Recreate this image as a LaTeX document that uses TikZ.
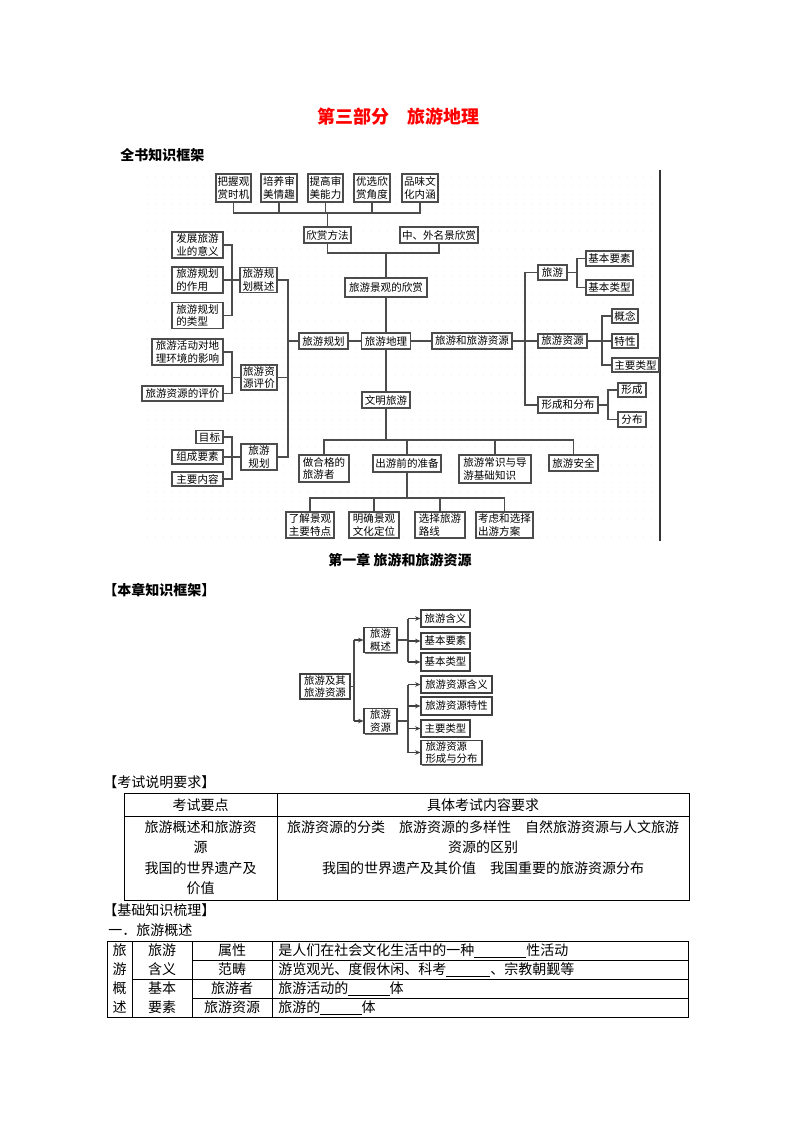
\documentclass[tikz,border=0pt]{standalone}
\usepackage{fontspec}
\setmainfont{Noto Sans CJK SC}
\usetikzlibrary{arrows.meta,shadows}
\begin{document}
\begin{tikzpicture}[x=0.75pt,y=-0.75pt,
  wh/.style 2 args={minimum width=#1*0.75pt,minimum height=#2*0.75pt},
  tb/.style={draw=black!70,line width=0.8pt,fill=white,inner sep=0.8pt,font=\fontsize{7.9}{9.3}\selectfont,align=left},
  ln/.style={draw=black!70,line width=0.8pt},
  sb/.style={draw=black!75,line width=0.8pt,fill=white,inner sep=0.8pt,font=\fontsize{7.8}{9.3}\selectfont,align=left,drop shadow={shadow xshift=1.1pt,shadow yshift=-1.1pt,fill=black!55,opacity=1}},
  ar/.style={draw=black!75,line width=0.8pt,-{Stealth[length=4pt,width=3.4pt]}},
  body/.style={font=\fontsize{10.5}{12}\selectfont,inner sep=0pt},
  head/.style={font=\fontsize{10.5}{12}\selectfont\bfseries,inner sep=0pt},
  tl/.style={draw=black,line width=0.75pt}]
\fill[white] (0,0) rectangle (794,1123);
\useasboundingbox (0,0) rectangle (794,1123);

% dotted background
\foreach \i in {0,...,63} {\foreach \j in {0,...,40} {\fill[gray!45] ({147+\i*8},{177+\j*9}) circle (0.35pt);}}
\coordinate (fT) at (660,170);
\coordinate (fB) at (660,541);
\draw[line width=0.8pt,black!80] (fT) -- (fB);

% title
\node[font=\fontsize{13.5}{15}\selectfont\bfseries,text=red,inner sep=0pt] (title) at (398,117) {第三部分　旅游地理};
\node[head,anchor=west] (qs) at (120,155) {全书知识框架};

% top row
\node[tb,wh={35}{28}] (a1) at (233.5,188) {把握观\\赏时机};
\node[tb,wh={36}{28}] (a2) at (279,188) {培养审\\美情趣};
\node[tb,wh={35}{28}] (a3) at (325.5,188) {提高审\\美能力};
\node[tb,wh={36}{28}] (a4) at (372,188) {优选欣\\赏角度};
\node[tb,wh={36}{28}] (a5) at (420,188) {品味文\\化内涵};
\coordinate (busA) at (0,213);
\draw[ln] (a1.south) -- (a1.south|-busA) -- (a5.south|-busA) -- (a5.south);
\foreach \n in {a2,a3,a4} \draw[ln] (\n.south) -- (\n.south|-busA);
\node[tb,wh={47}{16}] (xs) at (327.5,235) {欣赏方法};
\draw[ln] (xs.north) -- (xs.north|-busA);
\node[tb,wh={78}{16}] (zw) at (439,235) {中、外名景欣赏};
\node[tb,wh={82}{19}] (jg) at (386,287.5) {旅游景观的欣赏};
\coordinate (busB) at (0,253);
\draw[ln] (xs.south) -- (xs.south|-busB) -- (zw.south|-busB) -- (zw.south);
\draw[ln] (jg.north) -- (jg.north|-busB);
\node[tb,wh={49}{16}] (dl) at (386,341) {旅游地理};
\draw[ln] (jg.south) -- (dl.north);
\node[tb,wh={49}{16}] (gh) at (323.5,341) {旅游规划};
\node[tb,wh={80}{16}] (zy) at (472,341) {旅游和旅游资源};
\draw[ln] (gh.east) -- (dl.west);
\draw[ln] (dl.east) -- (zy.west);
\node[tb,wh={48}{16}] (wm) at (386,400) {文明旅游};
\draw[ln] (dl.south) -- (wm.north);

% left side
\coordinate (brL) at (232,0);
\coordinate (trL) at (288,0);
\node[tb,wh={51}{26}] (l1) at (197.5,245) {发展旅游\\业的意义};
\node[tb,wh={51}{26}] (l2) at (197.5,280) {旅游规划\\的作用};
\node[tb,wh={51}{26}] (l3) at (197.5,315.5) {旅游规划\\的类型};
\node[tb,wh={37}{25}] (l4) at (258.5,280) {旅游规\\划概述};
\draw[ln] (l1.east) -- (l1.east-|brL) -- (l3.east-|brL) -- (l3.east);
\draw[ln] (l2.east) -- (l4.west);
\node[tb,wh={71}{26}] (l5) at (187.5,352) {旅游活动对地\\理环境的影响};
\node[tb,wh={81}{15}] (l6) at (182.5,393.5) {旅游资源的评价};
\node[tb,wh={36}{25}] (l7) at (259,377.5) {旅游资\\源评价};
\draw[ln] (l5.east) -- (l5.east-|brL) -- (l6.east-|brL) -- (l6.east);
\draw[ln] (l7.west) -- (l7.west-|brL);
\node[tb,wh={27}{13}] (l8a) at (209.5,437) {目标};
\node[tb,wh={51}{14}] (l8b) at (197.5,457) {组成要素};
\node[tb,wh={51}{14}] (l8c) at (197.5,479) {主要内容};
\node[tb,wh={36}{26}] (l9) at (259,457) {旅游\\规划};
\draw[ln] (l8a.east) -- (l8a.east-|brL) -- (l8c.east-|brL) -- (l8c.east);
\draw[ln] (l8b.east) -- (l9.west);
\draw[ln] (l4.east) -- (l4.east-|trL) -- (l9.east-|trL) -- (l9.east);
\draw[ln] (l7.east) -- (l7.east-|trL);
\draw[ln] (gh.west) -- (gh.west-|trL);

% bottom tree
\coordinate (busC) at (0,440);
\node[tb,wh={50}{27}] (b1) at (324,468.5) {做合格的\\旅游者};
\node[tb,wh={68}{17}] (b2) at (407,463.5) {出游前的准备};
\node[tb,wh={72}{28}] (b3) at (495,469) {旅游常识与导\\游基础知识};
\node[tb,wh={49}{16}] (b4) at (573.5,463) {旅游安全};
\draw[ln] (wm.south) -- (wm.south|-busC);
\draw[ln] (b1.north) -- (b1.north|-busC) -- (b4.north|-busC) -- (b4.north);
\draw[ln] (b2.north) -- (b2.north|-busC);
\draw[ln] (b3.north) -- (b3.north|-busC);
\coordinate (busD) at (0,498);
\node[tb,wh={48}{26}] (c1) at (310,525) {了解景观\\主要特点};
\node[tb,wh={50}{26}] (c2) at (374,525) {明确景观\\文化定位};
\node[tb,wh={50}{26}] (c3) at (440,525) {选择旅游\\路线};
\node[tb,wh={57}{26}] (c4) at (504.5,525) {考虑和选择\\出游方案};
\draw[ln] (b2.south) -- (b2.south|-busD);
\draw[ln] (c1.north) -- (c1.north|-busD) -- (c4.north|-busD) -- (c4.north);
\draw[ln] (c2.north) -- (c2.north|-busD);
\draw[ln] (c3.north) -- (c3.north|-busD);

% right side
\coordinate (brR) at (525,0);
\coordinate (brR1) at (577,0);
\coordinate (brR2) at (602,0);
\coordinate (brR3) at (608,0);
\node[tb,wh={29}{15}] (r1) at (552.5,272.5) {旅游};
\node[tb,wh={47}{15}] (r2) at (609.5,258.5) {基本要素};
\node[tb,wh={47}{15}] (r3) at (609.5,287.5) {基本类型};
\draw[ln] (r2.west) -- (r2.west-|brR1) -- (r3.west-|brR1) -- (r3.west);
\draw[ln] (r1.east) -- (r1.east-|brR1);
\node[tb,wh={49}{14}] (r4) at (562.5,341) {旅游资源};
\node[tb,wh={26}{14}] (r5) at (625,316) {概念};
\node[tb,wh={26}{14}] (r6) at (625,341) {特性};
\node[tb,wh={47}{14}] (r7) at (635.5,365) {主要类型};
\draw[ln] (r5.west) -- (r5.west-|brR2) -- (r7.west-|brR2) -- (r7.west);
\draw[ln] (r4.east) -- (r6.west);
\node[tb,wh={60}{16}] (r8) at (568,405) {形成和分布};
\node[tb,wh={28}{14}] (r9) at (632,390) {形成};
\node[tb,wh={28}{15}] (r10) at (632,419.5) {分布};
\draw[ln] (r9.west) -- (r9.west-|brR3) -- (r10.west-|brR3) -- (r10.west);
\draw[ln] (r8.east) -- (r8.east-|brR3);
\draw[ln] (r1.west) -- (r1.west-|brR) -- (r8.west-|brR) -- (r8.west);
\draw[ln] (zy.east) -- (r4.west);

% chapter
\node[head] (ch1) at (400,560) {第一章 旅游和旅游资源};
\node[head,anchor=west] (bz) at (103,590) {【本章知识框架】};

% second diagram
\coordinate (sb1) at (354,0);
\coordinate (sb2) at (408,0);
\node[sb,wh={50}{25}] (s1) at (325,686.5) {旅游及其\\旅游资源};
\node[sb,wh={33}{24}] (s2) at (380.5,640) {旅游\\概述};
\node[sb,wh={33}{24}] (s3) at (380.5,721) {旅游\\资源};
\node[sb,wh={49}{17}] (s4) at (445.5,618.5) {旅游含义};
\node[sb,wh={49}{16}] (s5) at (445.5,641) {基本要素};
\node[sb,wh={49}{18}] (s6) at (445.5,662) {基本类型};
\node[sb,wh={71}{17}] (s7) at (456.5,684.5) {旅游资源含义};
\node[sb,wh={71}{18}] (s8) at (456.5,706) {旅游资源特性};
\node[sb,wh={49}{17}] (s9) at (445.5,728.5) {主要类型};
\node[sb,wh={61}{21}] (s10) at (451.5,752.5) {旅游资源\\形成与分布};
\draw[ln] (s1.east) -- (s1.east-|sb1);
\draw[ln] (s2.west-|sb1) -- (s3.west-|sb1);
\draw[ar] (s2.west-|sb1) -- (s2.west);
\draw[ar] (s3.west-|sb1) -- (s3.west);
\draw[ln] (s2.east) -- (s2.east-|sb2);
\draw[ln] (s4.west-|sb2) -- (s6.west-|sb2);
\foreach \n in {s4,s5,s6} \draw[ar] (\n.west-|sb2) -- (\n.west);
\draw[ln] (s3.east) -- (s3.east-|sb2);
\draw[ln] (s7.west-|sb2) -- (s10.west-|sb2);
\foreach \n in {s7,s8,s9,s10} \draw[ar] (\n.west-|sb2) -- (\n.west);

% exam table
\node[body,anchor=west] (ks) at (103,782) {【考试说明要求】};
\draw[tl] (124,793) rectangle (689,900);
\draw[tl] (124,816) -- (689,816);
\draw[tl] (277,793) -- (277,900);
\node[body] (t11) at (200.5,805) {考试要点};
\node[body] (t12) at (483,805) {具体考试内容要求};
\node[body] (t21) at (200.5,827) {旅游概述和旅游资};
\node[body] (t22) at (200.5,847) {源};
\node[body] (t23) at (200.5,868) {我国的世界遗产及};
\node[body] (t24) at (200.5,888) {价值};
\node[body] (t31) at (483,827) {旅游资源的分类　旅游资源的多样性　自然旅游资源与人文旅游};
\node[body] (t32) at (483,847) {资源的区别};
\node[body] (t33) at (483,868) {我国的世界遗产及其价值　我国重要的旅游资源分布};

% basic knowledge table
\node[body,anchor=west] (jc) at (103,910) {【基础知识梳理】};
\node[body,anchor=west] (yi) at (108,930) {一．旅游概述};
\draw[tl] (107,941) rectangle (688,1017);
\draw[tl] (192,960) -- (688,960);
\draw[tl] (132,979) -- (688,979);
\draw[tl] (192,998) -- (688,998);
\draw[tl] (132,941) -- (132,1017);
\draw[tl] (192,941) -- (192,1017);
\draw[tl] (272,941) -- (272,1017);
\node[body] (v1) at (119.5,950.5) {旅};
\node[body] (v2) at (119.5,969.5) {游};
\node[body] (v3) at (119.5,988.5) {概};
\node[body] (v4) at (119.5,1007.5) {述};
\node[body] (w1) at (162,950.5) {旅游};
\node[body] (w2) at (162,969.5) {含义};
\node[body] (w3) at (162,988.5) {基本};
\node[body] (w4) at (162,1007.5) {要素};
\node[body] (x1) at (232,950.5) {属性};
\node[body] (x2) at (232,969.5) {范畴};
\node[body] (x3) at (232,988.5) {旅游者};
\node[body] (x4) at (232,1007.5) {旅游资源};
\node[body,anchor=west] (y1) at (278,950.5) {是人们在社会文化生活中的一种\underline{\hspace{39pt}}性活动};
\node[body,anchor=west] (y2) at (278,969.5) {游览观光、度假休闲、科考\underline{\hspace{33pt}}、宗教朝觐等};
\node[body,anchor=west] (y3) at (278,988.5) {旅游活动的\underline{\hspace{31pt}}体};
\node[body,anchor=west] (y4) at (278,1007.5) {旅游的\underline{\hspace{31pt}}体};
\end{tikzpicture}
\end{document}
